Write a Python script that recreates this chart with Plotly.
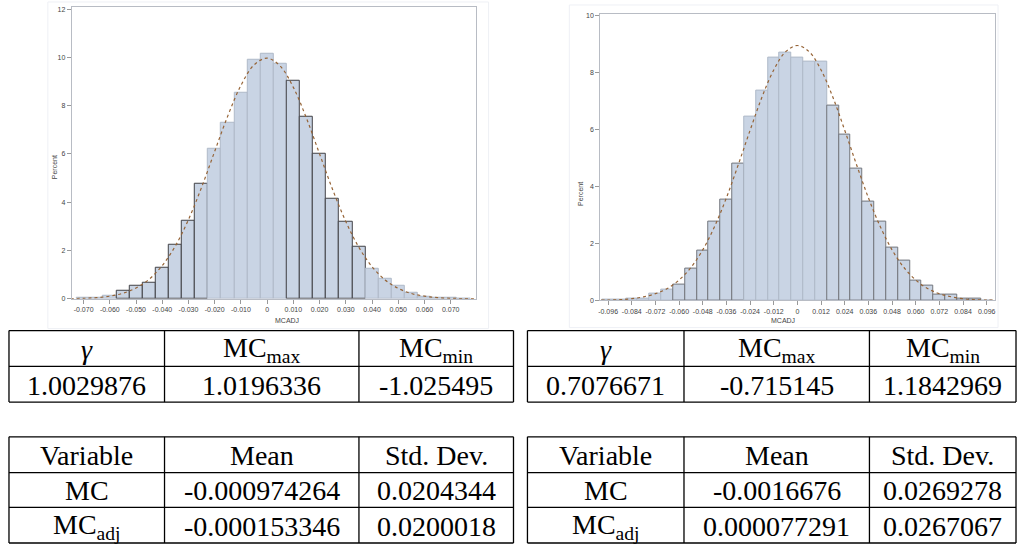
import plotly.graph_objects as go

W, H = 1020, 548

# ---------------- data ----------------
left_centers = [-0.070, -0.065, -0.060, -0.055, -0.050, -0.045, -0.040, -0.035, -0.030, -0.025,
                -0.020, -0.015, -0.010, -0.005, 0.000, 0.005, 0.010, 0.015, 0.020, 0.025,
                0.030, 0.035, 0.040, 0.045, 0.050, 0.055, 0.060, 0.065, 0.070, 0.075]
left_percent = [0.04, 0.05, 0.13, 0.33, 0.55, 0.68, 1.30, 2.22, 3.23, 4.77,
                6.23, 7.29, 8.55, 9.89, 10.14, 9.75, 9.04, 7.53, 6.03, 4.15,
                3.19, 2.16, 1.26, 0.82, 0.55, 0.27, 0.10, 0.05, 0.03, 0.02]
left_curve_x = [-0.075, -0.070, -0.065, -0.060, -0.055, -0.050, -0.045, -0.040, -0.035, -0.030,
                -0.025, -0.020, -0.015, -0.010, -0.005, 0.000, 0.005, 0.010, 0.015, 0.020,
                0.025, 0.030, 0.035, 0.040, 0.045, 0.050, 0.055, 0.060, 0.065, 0.070, 0.075, 0.080]
left_curve_y = [0.01, 0.02, 0.05, 0.11, 0.23, 0.45, 0.81, 1.38, 2.19, 3.28,
                4.62, 6.11, 7.58, 8.84, 9.69, 9.97, 9.64, 8.76, 7.48, 6.00,
                4.52, 3.20, 2.13, 1.33, 0.78, 0.43, 0.22, 0.11, 0.05, 0.02, 0.01, 0.003]
left_xticks = [-0.07, -0.06, -0.05, -0.04, -0.03, -0.02, -0.01, 0, 0.01, 0.02, 0.03, 0.04, 0.05, 0.06, 0.07]
left_xticktext = ["-0.070", "-0.060", "-0.050", "-0.040", "-0.030", "-0.020", "-0.010", "0",
                  "0.010", "0.020", "0.030", "0.040", "0.050", "0.060", "0.070"]
left_yticks = [0, 2, 4, 6, 8, 10, 12]

right_centers = [-0.096, -0.090, -0.084, -0.078, -0.072, -0.066, -0.060, -0.054, -0.048, -0.042,
                 -0.036, -0.030, -0.024, -0.018, -0.012, -0.006, 0.000, 0.006, 0.012, 0.018,
                 0.024, 0.030, 0.036, 0.042, 0.048, 0.054, 0.060, 0.066, 0.072, 0.078,
                 0.084, 0.090, 0.096]
right_percent = [0.03, 0.02, 0.06, 0.08, 0.23, 0.38, 0.56, 1.13, 1.77, 2.77,
                 3.55, 4.80, 6.45, 7.36, 8.52, 8.70, 8.52, 8.41, 8.41, 6.86,
                 5.84, 4.62, 3.47, 2.77, 1.86, 1.40, 0.70, 0.52, 0.20, 0.20,
                 0.06, 0.06, 0.01]
right_curve_x = [-0.0995, -0.096, -0.090, -0.084, -0.078, -0.072, -0.066, -0.060, -0.054, -0.048,
                 -0.042, -0.036, -0.030, -0.024, -0.018, -0.012, -0.006, 0.000, 0.006, 0.012,
                 0.018, 0.024, 0.030, 0.036, 0.042, 0.048, 0.054, 0.060, 0.066, 0.072,
                 0.078, 0.084, 0.090, 0.096, 0.0995]
right_curve_y = [0.01, 0.014, 0.03, 0.063, 0.13, 0.24, 0.42, 0.72, 1.16, 1.78,
                 2.60, 3.61, 4.77, 5.98, 7.14, 8.10, 8.74, 8.96, 8.74, 8.10,
                 7.14, 5.98, 4.77, 3.61, 2.60, 1.78, 1.16, 0.72, 0.42, 0.24,
                 0.13, 0.063, 0.03, 0.014, 0.01]
right_xticks = [-0.096, -0.084, -0.072, -0.060, -0.048, -0.036, -0.024, -0.012, 0,
                0.012, 0.024, 0.036, 0.048, 0.060, 0.072, 0.084, 0.096]
right_xticktext = ["-0.096", "-0.084", "-0.072", "-0.060", "-0.048", "-0.036", "-0.024", "-0.012", "0",
                   "0.012", "0.024", "0.036", "0.048", "0.060", "0.072", "0.084", "0.096"]
right_yticks = [0, 2, 4, 6, 8, 10]

table1_header = ["<i>γ</i>", "MC<sub>max</sub>", "MC<sub>min</sub>"]
table1_left_vals = ["1.0029876", "1.0196336", "-1.025495"]
table1_right_vals = ["0.7076671", "-0.715145", "1.1842969"]
table2_header = ["Variable", "Mean", "Std. Dev."]
table2_rows_label = ["MC", "MC<sub>adj</sub>"]
table2_left_vals = [["-0.000974264", "0.0204344"], ["-0.000153346", "0.0200018"]]
table2_right_vals = [["-0.0016676", "0.0269278"], ["0.000077291", "0.0267067"]]

# ---------------- styles ----------------
BAR_FILL = "rgb(201,212,228)"
LIGHT_EDGE = "rgb(175,185,200)"
DARK_EDGE = "rgb(65,65,70)"
MID_EDGE = "rgb(115,118,125)"
CURVE = "rgb(150,100,55)"

left_edges = [DARK_EDGE if (-0.056 < c < -0.024 or 0.009 < c < 0.036) else LIGHT_EDGE for c in left_centers]
right_edges = [MID_EDGE if (-0.061 < c < -0.029 or 0.017 < c < 0.091) else LIGHT_EDGE for c in right_centers]


def px(x):
    return x / W


def py(y):
    return 1 - y / H


fig = go.Figure()

fig.add_trace(go.Bar(x=left_centers, y=left_percent, width=0.005,
                     marker=dict(color=BAR_FILL, line=dict(color=left_edges, width=1)),
                     xaxis="x", yaxis="y", showlegend=False))
fig.add_trace(go.Scatter(x=left_curve_x, y=left_curve_y, mode="lines", line_shape="spline",
                         line=dict(color=CURVE, width=1.2, dash="dot"),
                         xaxis="x", yaxis="y", showlegend=False))
fig.add_trace(go.Bar(x=right_centers, y=right_percent, width=0.006,
                     marker=dict(color=BAR_FILL, line=dict(color=right_edges, width=1)),
                     xaxis="x2", yaxis="y2", showlegend=False))
fig.add_trace(go.Scatter(x=right_curve_x, y=right_curve_y, mode="lines", line_shape="spline",
                         line=dict(color=CURVE, width=1.2, dash="dot"),
                         xaxis="x2", yaxis="y2", showlegend=False))

tickfont = dict(family="Liberation Sans", size=7, color="#444")
axcommon = dict(showgrid=False, zeroline=False, showline=True, linecolor="#b8bcc4",
                linewidth=1, mirror=True, ticks="outside", ticklen=4, tickcolor="#999",
                tickfont=tickfont, fixedrange=True)

fig.update_layout(
    width=W, height=H,
    margin=dict(l=0, r=0, t=0, b=0),
    paper_bgcolor="white", plot_bgcolor="white",
    bargap=0, barmode="overlay",
    xaxis=dict(domain=[px(70), px(475)], range=[-0.0745, 0.0795],
               tickvals=left_xticks, ticktext=left_xticktext, anchor="y", **axcommon),
    yaxis=dict(domain=[py(300), py(5.8)], range=[0, 12.1], tickvals=left_yticks,
               anchor="x", **axcommon),
    xaxis2=dict(domain=[px(600), px(995.5)], range=[-0.1, 0.1],
                tickvals=right_xticks, ticktext=right_xticktext, anchor="y2", **axcommon),
    yaxis2=dict(domain=[py(301.7), py(12.7)], range=[0, 10.08], tickvals=right_yticks,
                anchor="x2", **axcommon),
)

shapes = []
annotations = []

# faint graph frames
shapes.append(dict(type="rect", xref="paper", yref="paper", x0=px(46), x1=px(488), y0=py(330), y1=py(1),
                   line=dict(color="#eef0f5", width=1)))
shapes.append(dict(type="rect", xref="paper", yref="paper", x0=px(569), x1=px(999), y0=py(329), y1=py(4),
                   line=dict(color="#eef0f5", width=1)))

small = dict(family="Liberation Sans", size=7, color="#444")
annotations.append(dict(x=px(48), y=py(153), xref="paper", yref="paper", text="Percent",
                        textangle=-90, showarrow=False, font=small))
annotations.append(dict(x=px(272), y=py(322), xref="paper", yref="paper", text="MCADJ",
                        showarrow=False, font=small))
annotations.append(dict(x=px(580), y=py(180), xref="paper", yref="paper", text="Percent",
                        textangle=-90, showarrow=False, font=small))
annotations.append(dict(x=px(797), y=py(322), xref="paper", yref="paper", text="MCADJ",
                        showarrow=False, font=small))

# tables
serif = dict(family="Liberation Serif, Times New Roman, serif", size=28, color="black")


def hline(x0, x1, y):
    shapes.append(dict(type="line", xref="paper", yref="paper", x0=px(x0), x1=px(x1), y0=py(y), y1=py(y),
                       line=dict(color="black", width=1.3)))


def vline(x, y0, y1):
    shapes.append(dict(type="line", xref="paper", yref="paper", x0=px(x), x1=px(x), y0=py(y0), y1=py(y1),
                       line=dict(color="black", width=1.3)))


def text(x, y, s):
    annotations.append(dict(x=px(x), y=py(y), xref="paper", yref="paper", text=s, showarrow=False,
                            font=serif, xanchor="center", yanchor="middle"))


tables_cols = {"left": [7, 163, 358, 513], "right": [527, 684, 870, 1017]}
t1_rows = [332, 368, 404]
t2_rows = [439, 475, 510, 546]

for side, vals1, vals2 in [("left", table1_left_vals, table2_left_vals),
                           ("right", table1_right_vals, table2_right_vals)]:
    cols = tables_cols[side]
    # table 1
    for y in t1_rows:
        hline(cols[0], cols[-1], y)
    for x in cols:
        vline(x, t1_rows[0], t1_rows[-1])
    centers = [(cols[i] + cols[i + 1]) / 2 for i in range(3)]
    for i in range(3):
        text(centers[i], (t1_rows[0] + t1_rows[1]) / 2 + 1, table1_header[i])
        text(centers[i], (t1_rows[1] + t1_rows[2]) / 2 + 1, vals1[i])
    # table 2
    for y in t2_rows:
        hline(cols[0], cols[-1], y)
    for x in cols:
        vline(x, t2_rows[0], t2_rows[-1])
    for i in range(3):
        text(centers[i], (t2_rows[0] + t2_rows[1]) / 2 + 1, table2_header[i])
    for r in range(2):
        yc = (t2_rows[r + 1] + t2_rows[r + 2]) / 2 + 1
        text(centers[0], yc, table2_rows_label[r])
        text(centers[1], yc, vals2[r][0])
        text(centers[2], yc, vals2[r][1])

fig.update_layout(shapes=shapes, annotations=annotations)
fig.write_html("out.html")
